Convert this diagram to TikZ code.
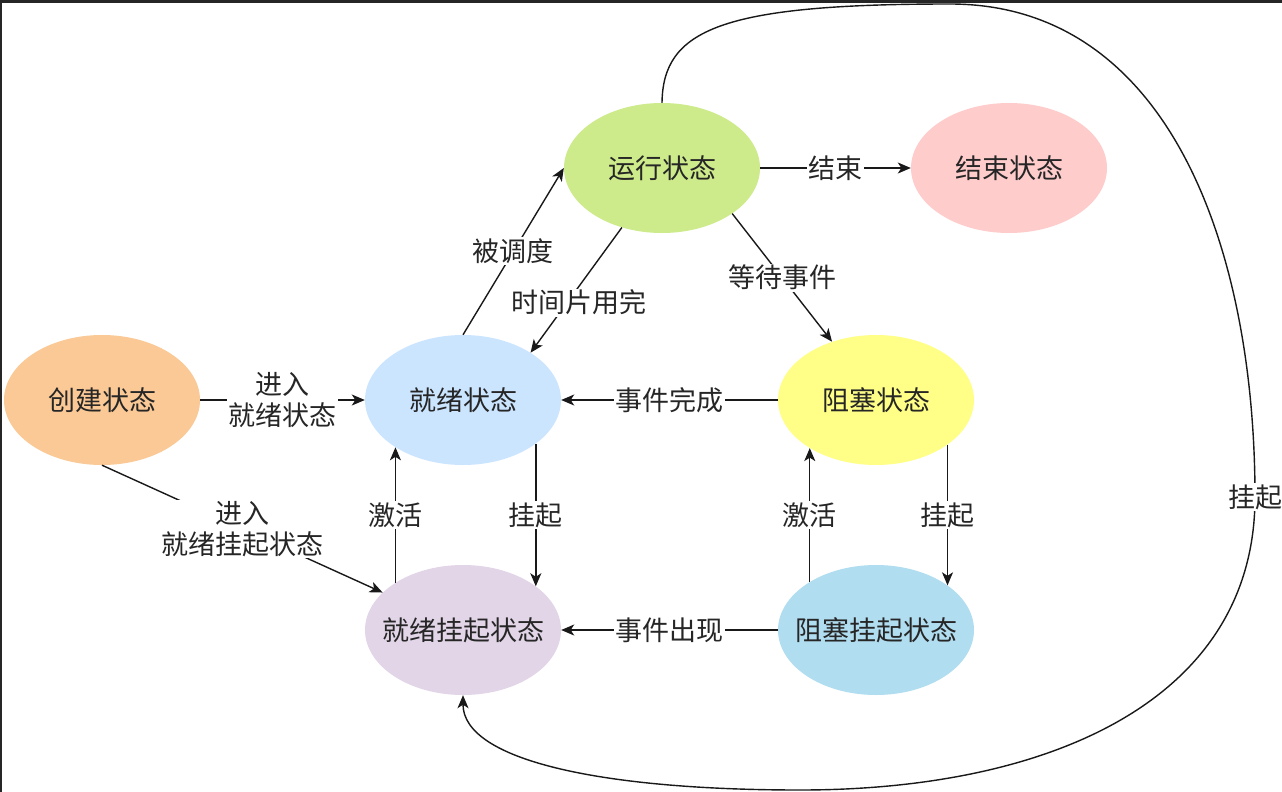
\documentclass[tikz,border=0pt]{standalone}
\usepackage{fontspec}
\newfontfamily\cjk{Noto Sans CJK SC}
\usetikzlibrary{shapes.geometric,arrows.meta}
\definecolor{cCreate}{RGB}{250,201,150}
\definecolor{cReady}{RGB}{204,229,255}
\definecolor{cRun}{RGB}{205,235,139}
\definecolor{cEnd}{RGB}{255,204,204}
\definecolor{cBlock}{RGB}{255,255,136}
\definecolor{cReadySusp}{RGB}{225,213,231}
\definecolor{cBlockSusp}{RGB}{177,221,240}
\tikzset{
  state/.style={ellipse, minimum width=196pt, minimum height=130pt, inner xsep=-15pt, inner ysep=0pt,
    font=\cjk\fontsize{27}{31}\selectfont, text=black!85},
  lbl/.style={fill=white, inner sep=1.5pt, align=center,
    font=\cjk\fontsize{27}{31}\selectfont, text=black!85},
  flow/.style={line width=1.4pt, draw=black!90, -{Stealth[length=13pt,width=11pt,inset=3.5pt]}}
}
\begin{document}
\begin{tikzpicture}[x=1pt,y=-1pt]
\useasboundingbox (0,0) rectangle (1282,792);
\fill[white] (0,0) rectangle (1282,792);
\fill[black!85] (0,0) rectangle (1282,3);
\fill[black!85] (0,0) rectangle (2,792);

\node[state, fill=cCreate] (create) at (102,400){创建状态};
\node[state, fill=cReady] (ready) at (463,400){就绪状态};
\node[state, fill=cRun] (run) at (662,168){运行状态};
\node[state, fill=cEnd] (done) at (1009,168){结束状态};
\node[state, fill=cBlock] (block) at (876,400){阻塞状态};
\node[state, fill=cReadySusp] (readysusp) at (463,630){就绪挂起状态};
\node[state, fill=cBlockSusp] (blocksusp) at (876,630){阻塞挂起状态};

\draw[flow](create.east) -- node[lbl]{进入\\就绪状态} (ready.west);
\draw[flow](create.south) -- node[lbl]{进入\\就绪挂起状态} (readysusp.155);
\draw[flow](ready.north) -- node[lbl]{被调度} (run.west);
\draw[flow](run.-124) -- node[lbl, pos=0.6, xshift=12pt]{时间片用完} (ready.35);
\draw[flow](run.east) -- node[lbl]{结束} (done.west);
\draw[flow](run.-33) -- node[lbl]{等待事件} (block.127);
\draw[flow](block.west) -- node[lbl]{事件完成} (ready.east);
\draw[flow](ready.-31) -- node[lbl]{挂起} (readysusp.31);
\draw[flow](readysusp.145) -- node[lbl]{激活} (ready.-145);
\draw[flow](block.-32) -- node[lbl]{挂起} (blocksusp.32);
\draw[flow](blocksusp.144) -- node[lbl]{激活} (block.-144);
\draw[flow](blocksusp.west) -- node[lbl]{事件出现} (readysusp.east);
\draw[flow](run.north) .. controls (663,30) and (720,4) .. (950,4)
  .. controls (1170,4) and (1255,250) .. (1255,497) node[lbl]{挂起}
  .. controls (1255,700) and (1050,790) .. (800,790)
  .. controls (600,790) and (463,760) .. (readysusp.south);
\end{tikzpicture}
\end{document}
